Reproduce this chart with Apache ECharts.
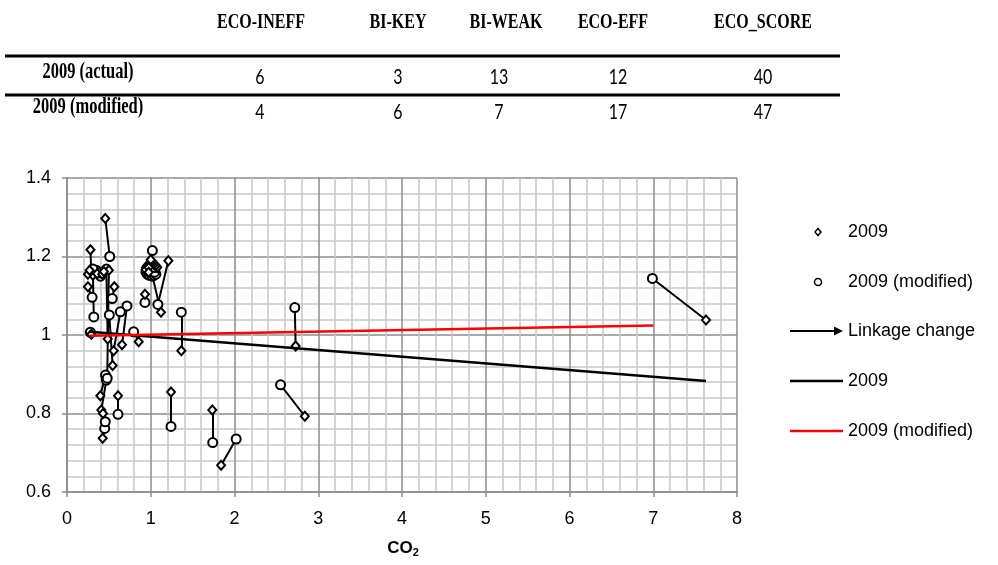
<!DOCTYPE html>
<html>
<head>
<meta charset="utf-8">
<script src="https://cdn.jsdelivr.net/npm/echarts@6/dist/echarts.min.js"></script>
<style>
  html, body { margin: 0; padding: 0; background: #ffffff; }
  #chart { width: 998px; height: 565px; }
</style>
</head>
<body>
<div id="chart"></div>
<script>
// ---- summary table ----
const tableColumns = ['ECO-INEFF', 'BI-KEY', 'BI-WEAK', 'ECO-EFF', 'ECO_SCORE'];
const tableRows = ['2009 (actual)', '2009 (modified)'];
const countsActual = [6, 3, 13, 12, 40];
const countsModified = [4, 6, 7, 17, 47];

// ---- scatter: CO2 (x) against linkage (y), actual vs modified ----
const co2Actual = [7.63, 2.73, 2.84, 1.735, 1.84, 1.365, 1.242, 1.21, 1.122, 0.931,
  0.457, 0.28, 0.25, 0.31, 0.565, 0.36, 0.486, 0.657, 0.856, 0.557,
  0.545, 0.398, 0.41, 0.609, 0.426, 0.43, 0.50, 0.29, 0.25, 0.42,
  0.27, 0.44,
  1.077, 1.061, 1.038, 1.010, 0.982, 0.959, 0.943, 0.940, 1.000,
  0.975, 0.975];
const linkActual = [1.038, 0.972, 0.793, 0.809, 0.668, 0.960, 0.855, 1.189, 1.058, 1.104,
  1.297, 1.217, 1.123, 1.152, 1.123, 1.156, 0.990, 0.975, 0.983, 0.960,
  0.922, 0.845, 0.809, 0.845, 0.737, 0.800, 1.165, 1.002, 1.155, 1.155,
  1.165, 1.162,
  1.172, 1.177, 1.180, 1.181, 1.180, 1.177, 1.172, 1.166, 1.192,
  1.172, 1.160];
const co2Modified = [6.99, 2.72, 2.55, 1.74, 2.02, 1.365, 1.242, 1.085, 1.02, 0.931,
  0.51, 0.29, 0.30, 0.32, 0.54, 0.40, 0.47, 0.716, 0.796, 0.637,
  0.505, 0.46, 0.47, 0.609, 0.45, 0.457, 0.48, 0.279, 0.33, 0.35,
  0.38, 0.31,
  0.943, 0.959, 0.982, 1.010, 1.038, 1.061, 1.020, 1.000, 1.019,
  1.045, 1.045];
const linkModified = [1.144, 1.070, 0.873, 0.726, 0.735, 1.058, 0.767, 1.078, 1.150, 1.083,
  1.200, 1.160, 1.096, 1.046, 1.093, 1.150, 1.168, 1.074, 1.008, 1.059,
  1.051, 0.898, 0.885, 0.798, 0.762, 0.779, 0.890, 1.007, 1.162, 1.165,
  1.158, 1.168,
  1.160, 1.155, 1.152, 1.151, 1.152, 1.155, 1.160, 1.166, 1.215,
  1.160, 1.172];

// linear trends (start / end)
const trendX2009 = [0.27, 7.63];
const trendY2009 = [1.008, 0.883];
const trendXModified = [0.27, 7.0];
const trendYModified = [0.998, 1.024];

// axis ranges: [min, max, interval]
const xTicks = [0, 8, 1];
const yTicks = [0.6, 1.4, 0.2];

// ---- layout ----
const GRID = { left: 67, right: 261, top: 178, bottom: 73 };
const colCenters = [261, 398, 506, 613, 763];
const valueCenters = [260, 398, 499, 618, 763];
const headerY = 22;
const ruleY = [56, 95];
const rowLabelX = 88;
const rowLabelY = [72, 107];
const rowValueY = [77, 112];
const TABLE_STRETCH = 1.35;

const chart = echarts.init(document.getElementById('chart'), null, { renderer: 'canvas' });

const pairLines = co2Actual.map((x, i) => ({
  coords: [[co2Modified[i], linkModified[i]], [x, linkActual[i]]]
}));
const actualPts = co2Actual.map((x, i) => [x, linkActual[i]]);
const modifiedPts = co2Modified.map((x, i) => [x, linkModified[i]]);

const serifBold = { fontFamily: '"Liberation Serif", "Times New Roman", serif', fontWeight: 'bold', fill: '#000' };
const valueFont = { fontFamily: 'Lato, "Open Sans", sans-serif', fill: '#000' };
const legendFont = { fontFamily: '"Liberation Sans", Arial, sans-serif', fontSize: 18, fill: '#000' };

function tableText(text, x, y, base, size) {
  return {
    type: 'text', x: x, y: y, scaleY: TABLE_STRETCH,
    style: Object.assign({ text: text, align: 'center', verticalAlign: 'middle', fontSize: size }, base)
  };
}

const graphics = [];
// table headers
tableColumns.forEach((c, i) => graphics.push(tableText(c, colCenters[i], headerY, serifBold, 16)));
// table rules
ruleY.forEach(y => graphics.push({
  type: 'line', shape: { x1: 5, y1: y, x2: 840, y2: y },
  style: { stroke: '#000', lineWidth: 3 }
}));
// table rows
[countsActual, countsModified].forEach((vals, r) => {
  graphics.push(tableText(tableRows[r], rowLabelX, rowLabelY[r], serifBold, 16.5));
  vals.forEach((v, i) => graphics.push(tableText(String(v), valueCenters[i], rowValueY[r], valueFont, 16)));
});

// legend
const LX0 = 790, LX1 = 843, LIcon = 818, LText = 848;
const legendRows = [232, 282, 331, 381, 431];
graphics.push({
  type: 'polygon', x: LIcon, y: legendRows[0],
  shape: { points: [[0, -3.5], [3, 0], [0, 3.5], [-3, 0]] },
  style: { fill: '#fff', stroke: '#000', lineWidth: 1.5 }
});
graphics.push({
  type: 'circle', shape: { cx: LIcon, cy: legendRows[1], r: 3.5 },
  style: { fill: '#fff', stroke: '#000', lineWidth: 1.5 }
});
graphics.push({
  type: 'line', shape: { x1: LX0, y1: legendRows[2], x2: LX1 - 8, y2: legendRows[2] },
  style: { stroke: '#000', lineWidth: 2 }
});
graphics.push({
  type: 'polygon',
  shape: { points: [[LX1 - 9, legendRows[2] - 4.5], [LX1, legendRows[2]], [LX1 - 9, legendRows[2] + 4.5]] },
  style: { fill: '#000' }
});
graphics.push({
  type: 'line', shape: { x1: LX0, y1: legendRows[3], x2: LX1, y2: legendRows[3] },
  style: { stroke: '#000', lineWidth: 2.5 }
});
graphics.push({
  type: 'line', shape: { x1: LX0, y1: legendRows[4], x2: LX1, y2: legendRows[4] },
  style: { stroke: '#ff0000', lineWidth: 2.5 }
});
['2009', '2009 (modified)', 'Linkage change', '2009', '2009 (modified)'].forEach((t, i) => graphics.push({
  type: 'text', x: LText, y: legendRows[i],
  style: Object.assign({ text: t, align: 'left', verticalAlign: 'middle' }, legendFont)
}));

// x-axis title with subscript
graphics.push({
  type: 'text', x: 403, y: 548,
  style: {
    text: '{b|CO}{s|2}', align: 'center', verticalAlign: 'middle',
    rich: {
      b: { fontFamily: '"Liberation Sans", Arial, sans-serif', fontWeight: 'bold', fontSize: 17, fill: '#000' },
      s: { fontFamily: '"Liberation Sans", Arial, sans-serif', fontWeight: 'bold', fontSize: 11, fill: '#000', padding: [10, 0, 0, 0] }
    }
  }
});

const axisCommon = {
  axisLine: { show: true, lineStyle: { color: '#8c8c8c', width: 1.5 } },
  axisTick: { show: true, length: 5, lineStyle: { color: '#8c8c8c', width: 1.5 } },
  splitLine: { show: true, lineStyle: { color: '#8c8c8c', width: 1.5 } },
  minorTick: { show: false, splitNumber: 5 },
  minorSplitLine: { show: true, lineStyle: { color: '#c6c6c6', width: 1.5 } },
  axisLabel: { color: '#000', fontSize: 18, fontFamily: '"Liberation Sans", Arial, sans-serif' }
};

chart.setOption({
  animation: false,
  backgroundColor: '#ffffff',
  grid: GRID,
  xAxis: Object.assign({}, axisCommon, {
    type: 'value', min: xTicks[0], max: xTicks[1], interval: xTicks[2],
    axisLabel: Object.assign({}, axisCommon.axisLabel, { margin: 18 })
  }),
  yAxis: Object.assign({}, axisCommon, {
    type: 'value', min: yTicks[0], max: yTicks[1], interval: yTicks[2],
    axisLabel: Object.assign({}, axisCommon.axisLabel, {
      margin: 16, formatter: v => String(Math.round(v * 10) / 10)
    })
  }),
  series: [
    {
      name: 'Linkage change', type: 'lines', coordinateSystem: 'cartesian2d',
      data: pairLines, z: 2, silent: true,
      lineStyle: { color: '#000', width: 2, opacity: 1, curveness: 0 }
    },
    {
      name: '2009 (modified)', type: 'scatter', data: modifiedPts, z: 3,
      symbol: 'circle', symbolSize: 9,
      itemStyle: { color: '#fff', borderColor: '#000', borderWidth: 2, opacity: 1 }
    },
    {
      name: '2009', type: 'scatter', data: actualPts, z: 4,
      symbol: 'diamond', symbolSize: [8, 9],
      itemStyle: { color: '#fff', borderColor: '#000', borderWidth: 2, opacity: 1 }
    },
    {
      name: '2009 trend', type: 'line', z: 5, showSymbol: false, silent: true,
      data: trendX2009.map((x, i) => [x, trendY2009[i]]),
      lineStyle: { color: '#000', width: 2.5 }
    },
    {
      name: '2009 (modified) trend', type: 'line', z: 6, showSymbol: false, silent: true,
      data: trendXModified.map((x, i) => [x, trendYModified[i]]),
      lineStyle: { color: '#ff0000', width: 2.5 }
    }
  ],
  graphic: graphics
});
</script>
</body>
</html>
